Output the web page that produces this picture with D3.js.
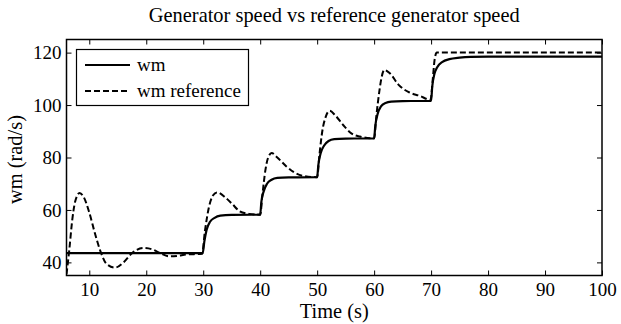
<!DOCTYPE html>
<html>
<head>
<meta charset="utf-8">
<script src="https://cdn.jsdelivr.net/npm/d3@7"></script>
<style>
  body { margin: 0; background: #fff; }
  svg text { font-family: "Liberation Serif", "Times New Roman", serif; fill: #000; }
  .axis path, .axis line { stroke: #000; }
</style>
</head>
<body>
<svg width="621" height="324"></svg>
<script>
// reference generator speed (dashed)
var refTime  = [6.0, 6.5, 7.0, 7.5, 8.3, 9.0, 10.0, 11.0, 12.0, 13.0, 14.5, 16.0, 17.5, 19.5, 21.0, 22.5, 24.0, 25.5, 27.0, 29.8,
                30.3, 31.0, 31.7, 32.4, 34.0, 35.0, 36.4, 38.0, 40.0,
                40.4, 40.9, 41.4, 42.0, 43.0, 44.6, 46.0, 47.5, 50.0,
                50.4, 50.9, 51.5, 52.2, 53.2, 54.6, 56.0, 57.5, 60.0,
                60.4, 60.9, 61.3, 61.8, 62.8, 64.3, 66.0, 68.0, 69.9,
                70.3, 70.6, 71.0, 100];
var refSpeed = [35.5, 45, 56, 63, 66.5, 65, 59, 51, 44, 39.5, 38, 40, 43.5, 45.5, 45, 43.5, 42.3, 42.5, 43, 43.3,
                52, 61, 65.5, 66.7, 64.5, 62.5, 59.5, 58.5, 58.2,
                66, 75, 80, 81.7, 80, 76.6, 74.3, 73, 72.5,
                81, 90, 95.5, 97.8, 96, 92.3, 89.2, 88, 87.3,
                96, 105, 110.5, 113.4, 112, 107.7, 105, 103.5, 102,
                110, 117, 120, 120];

// generator speed wm (solid)
var wmTime  = [6.0, 29.9, 30.2, 30.6, 31.2, 32.0, 33.0, 35.0, 40.0,
               40.2, 40.6, 41.2, 42.0, 43.0, 45.0, 50.0,
               50.2, 50.6, 51.2, 52.0, 53.0, 55.0, 60.0,
               60.2, 60.6, 61.2, 62.0, 63.0, 65.0, 70.0,
               70.2, 70.6, 71.1, 72.0, 73.2, 75.0, 77.0, 80.0, 100];
var wmSpeed = [43.5, 43.5, 48, 52.5, 55.5, 57, 57.8, 58.1, 58.2,
               63, 67, 70, 71.5, 72.2, 72.4, 72.5,
               77, 81.5, 84.5, 86.3, 87, 87.2, 87.3,
               92, 96.5, 99.5, 100.8, 101.3, 101.5, 101.6,
               107, 112, 114.5, 116.5, 117.5, 118.1, 118.4, 118.5, 118.5];

var xTicks = [10, 20, 30, 40, 50, 60, 70, 80, 90, 100];
var yTicks = [40, 60, 80, 100, 120];
var legendNames = ["wm", "wm reference"];

var plotLeft = 66.5, plotRight = 602, plotTop = 39.5, plotBottom = 275.5;
var serif = '"Liberation Serif", "Times New Roman", serif';

var x = d3.scaleLinear().domain([6, 100]).range([plotLeft, plotRight]);
var y = d3.scaleLinear().domain([35, 125]).range([plotBottom, plotTop]);

var svg = d3.select('svg');

svg.append('text')
    .text('Generator speed vs reference generator speed')
    .attr('x', (plotLeft + plotRight) / 2).attr('y', 22)
    .attr('text-anchor', 'middle')
    .style('font-size', '20.4px');

// lines, clipped to the plot box
svg.append('clipPath').attr('id', 'clip')
  .append('rect').attr('x', plotLeft).attr('y', plotTop)
  .attr('width', plotRight - plotLeft).attr('height', plotBottom - plotTop);

var line = d3.line().curve(d3.curveMonotoneX);

svg.append('path')
    .attr('d', line(refTime.map((t, i) => [x(t), y(refSpeed[i])])))
    .attr('clip-path', 'url(#clip)')
    .attr('fill', 'none').attr('stroke', '#000')
    .attr('stroke-width', 2).attr('stroke-dasharray', '6,3');

svg.append('path')
    .attr('d', line(wmTime.map((t, i) => [x(t), y(wmSpeed[i])])))
    .attr('clip-path', 'url(#clip)')
    .attr('fill', 'none').attr('stroke', '#000')
    .attr('stroke-width', 2.2);

// axes with inward ticks on all four sides
function styleAxis(g) {
    g.select('.domain').remove();
    g.attr('font-family', serif).attr('font-size', 19);
}
svg.append('g').attr('class', 'axis')
    .attr('transform', 'translate(0,' + plotBottom + ')')
    .call(d3.axisBottom(x).tickValues(xTicks).tickSizeInner(-5).tickSizeOuter(0).tickPadding(7))
    .call(styleAxis);
svg.append('g').attr('class', 'axis')
    .attr('transform', 'translate(0,' + plotTop + ')')
    .call(d3.axisTop(x).tickValues(xTicks).tickSizeInner(-5).tickSizeOuter(0).tickFormat(''))
    .call(styleAxis);
svg.append('g').attr('class', 'axis')
    .attr('transform', 'translate(' + plotLeft + ',0)')
    .call(d3.axisLeft(y).tickValues(yTicks).tickSizeInner(-5).tickSizeOuter(0).tickPadding(5))
    .call(styleAxis);
svg.append('g').attr('class', 'axis')
    .attr('transform', 'translate(' + plotRight + ',0)')
    .call(d3.axisRight(y).tickValues(yTicks).tickSizeInner(-5).tickSizeOuter(0).tickFormat(''))
    .call(styleAxis);

svg.append('rect')
    .attr('x', plotLeft).attr('y', plotTop)
    .attr('width', plotRight - plotLeft).attr('height', plotBottom - plotTop)
    .attr('fill', 'none').attr('stroke', '#000').attr('stroke-width', 1.5);

svg.append('text')
    .text('Time (s)')
    .attr('x', (plotLeft + plotRight) / 2).attr('y', 318)
    .attr('text-anchor', 'middle')
    .style('font-size', '20.4px');

svg.append('text')
    .text('wm (rad/s)')
    .attr('transform', 'translate(22,' + ((plotTop + plotBottom) / 2 + 2) + ') rotate(-90)')
    .attr('text-anchor', 'middle')
    .style('font-size', '20.4px');

// legend
var legend = svg.append('g');
legend.append('rect')
    .attr('x', 76.5).attr('y', 49.5).attr('width', 172).attr('height', 56)
    .attr('fill', '#fff').attr('stroke', '#000').attr('stroke-width', 1.2);
legendNames.forEach(function(name, i) {
    var ly = 65 + i * 26;
    legend.append('line')
        .attr('x1', 85).attr('x2', 130).attr('y1', ly).attr('y2', ly)
        .attr('stroke', '#000').attr('stroke-width', 2)
        .attr('stroke-dasharray', i === 1 ? '6,3' : null);
    legend.append('text')
        .text(name)
        .attr('x', 137).attr('y', ly + 6)
        .style('font-size', '19px');
});
</script>
</body>
</html>
